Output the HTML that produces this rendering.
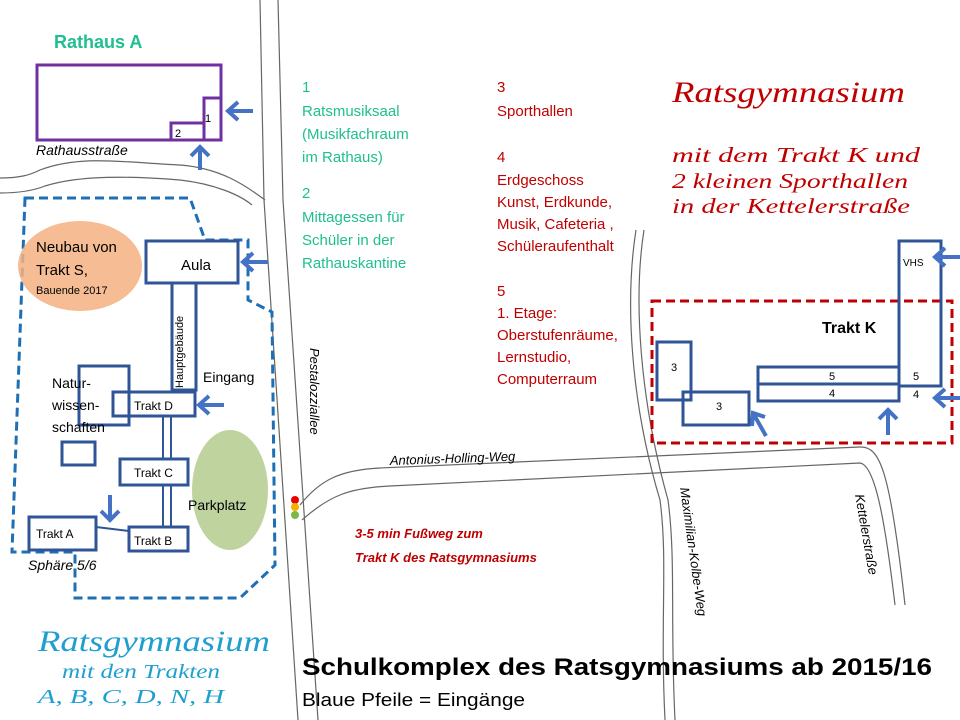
<!DOCTYPE html>
<html><head><meta charset="utf-8"><style>
html,body{margin:0;padding:0;background:#fff;}
svg{display:block;}
text{font-family:"Liberation Sans",sans-serif;}
</style></head><body>
<svg width="960" height="720" viewBox="0 0 960 720" xmlns="http://www.w3.org/2000/svg">
<g fill="none" stroke="#666" stroke-width="1.2">
<path d="M260,0 L264,200 L298,720"/>
<path d="M278,0 L283,200 L318,720"/>
<path d="M0,178 C20,178 30,175 40,170 C80,155 120,162 180,165 C220,168 245,185 265,200"/>
<path d="M0,193 C20,193 35,190 45,186 C80,175 130,176 180,180 C215,184 240,195 252,205"/>
<path d="M300,505 C320,480 340,470 380,468 L860,447 C880,446 890,470 905,605"/>
<path d="M302,520 C330,495 350,488 390,486 L860,463 C875,465 885,520 895,605"/>
<path d="M636,230 C625,300 630,400 660,500 C668,560 660,620 665,720"/>
<path d="M644,230 C633,300 640,400 668,500 C676,560 670,620 675,720"/>
</g>
<path d="M25,198 L190,198 L205,240 L248,240 L248,300 L272,312 L275,565 L240,598 L75,598 L75,552 L12,552 Z" fill="none" stroke="#1e6fb5" stroke-width="3" stroke-dasharray="9,5"/>
<ellipse cx="80" cy="266" rx="62" ry="45" fill="#f4b183" opacity="0.85"/>
<ellipse cx="230" cy="490" rx="38" ry="60" fill="#a9c47f" opacity="0.75"/>
<g fill="none" stroke="#7030a0" stroke-width="3">
<rect x="37" y="65" width="184" height="75"/>
<rect x="204" y="98" width="17" height="42"/>
<rect x="171" y="123" width="33" height="17"/>
</g>
<text x="54" y="48" font-size="18" font-weight="bold" fill="#1fbf8f">Rathaus A</text>
<text x="175" y="137" font-size="11">2</text>
<text x="205" y="122" font-size="11">1</text>
<text x="36" y="155" font-size="14" font-style="italic">Rathausstraße</text>
<g fill="none" stroke="#2f5597" stroke-width="3">
<rect x="146" y="241" width="92" height="42"/>
<rect x="172" y="283" width="24" height="107"/>
<rect x="79" y="366" width="50" height="59"/>
<rect x="113" y="392" width="82" height="24"/>
<rect x="62" y="442" width="33" height="23"/>
<rect x="120" y="459" width="68" height="26"/>
<rect x="29" y="517" width="67" height="33"/>
<rect x="129" y="527" width="59" height="24"/>
<line x1="163" y1="416" x2="163" y2="459" stroke-width="2"/>
<line x1="171" y1="416" x2="171" y2="459" stroke-width="2"/>
<line x1="163" y1="485" x2="163" y2="527" stroke-width="2"/>
<line x1="171" y1="485" x2="171" y2="527" stroke-width="2"/>
<line x1="96" y1="527" x2="129" y2="531" stroke-width="2"/>
</g>
<text x="181" y="270" font-size="15">Aula</text>
<text x="36" y="252" font-size="15">Neubau  von</text>
<text x="36" y="275" font-size="15">Trakt  S,</text>
<text x="36" y="294" font-size="11">Bauende 2017</text>
<text transform="translate(183,388) rotate(-90)" font-size="11">Hauptgebäude</text>
<text x="203" y="382" font-size="14">Eingang</text>
<text x="52" y="388" font-size="14">Natur-</text>
<text x="52" y="410" font-size="14">wissen-</text>
<text x="52" y="432" font-size="14">schaften</text>
<text x="134" y="410" font-size="12">Trakt D</text>
<text x="134" y="477" font-size="12">Trakt C</text>
<text x="36" y="538" font-size="12">Trakt A</text>
<text x="134" y="545" font-size="12">Trakt B</text>
<text x="188" y="510" font-size="14">Parkplatz</text>
<text x="28" y="570" font-size="14" font-style="italic">Sphäre 5/6</text>
<text transform="translate(310,348) rotate(90)" font-size="13" font-style="italic">Pestalozziallee</text>
<circle cx="295" cy="500" r="4" fill="#e00"/>
<circle cx="295" cy="507" r="4" fill="#f0b400"/>
<circle cx="295" cy="515" r="4" fill="#7cb84a"/>
<text x="390" y="465" font-size="13" font-style="italic" transform="rotate(-2 390 465)">Antonius-Holling-Weg</text>
<text transform="translate(680,488) rotate(82)" font-size="13" font-style="italic">Maximilian-Kolbe-Weg</text>
<text transform="translate(855,495) rotate(80)" font-size="13" font-style="italic">Kettelerstraße</text>
<g font-size="15" fill="#1fbf8f">
<text x="302" y="92">1</text>
<text x="302" y="116">Ratsmusiksaal</text>
<text x="302" y="139">(Musikfachraum</text>
<text x="302" y="162">im Rathaus)</text>
<text x="302" y="198">2</text>
<text x="302" y="222">Mittagessen für</text>
<text x="302" y="245">Schüler in  der</text>
<text x="302" y="268">Rathauskantine</text>
</g>
<g font-size="15" fill="#c00000">
<text x="497" y="92">3</text>
<text x="497" y="116">Sporthallen</text>
<text x="497" y="162">4</text>
<text x="497" y="185">Erdgeschoss</text>
<text x="497" y="207">Kunst,  Erdkunde,</text>
<text x="497" y="229">Musik, Cafeteria ,</text>
<text x="497" y="251">Schüleraufenthalt</text>
<text x="497" y="296">5</text>
<text x="497" y="318">1. Etage:</text>
<text x="497" y="340">Oberstufenräume,</text>
<text x="497" y="362">Lernstudio,</text>
<text x="497" y="384">Computerraum</text>
</g>
<g font-size="13" fill="#c00000" font-weight="bold" font-style="italic">
<text x="355" y="538">3-5 min Fußweg zum</text>
<text x="355" y="562">Trakt K des  Ratsgymnasiums</text>
</g>
<g font-style="italic" fill="#c00000">
<text x="672" y="102" font-size="30" textLength="233" lengthAdjust="spacingAndGlyphs" style="font-family:'Liberation Serif',serif">Ratsgymnasium</text>
<text x="672" y="162" font-size="21" textLength="248" lengthAdjust="spacingAndGlyphs" style="font-family:'Liberation Serif',serif">mit dem Trakt  K und</text>
<text x="672" y="188" font-size="21" textLength="236" lengthAdjust="spacingAndGlyphs" style="font-family:'Liberation Serif',serif">2 kleinen Sporthallen</text>
<text x="672" y="213" font-size="21" textLength="238" lengthAdjust="spacingAndGlyphs" style="font-family:'Liberation Serif',serif">in der Kettelerstraße</text>
</g>
<rect x="652" y="301" width="300" height="142" fill="none" stroke="#c00000" stroke-width="3" stroke-dasharray="9,5"/>
<g fill="none" stroke="#2f5597" stroke-width="3">
<rect x="899" y="241" width="42" height="145"/>
<rect x="657" y="342" width="34" height="58"/>
<rect x="683" y="392" width="66" height="33"/>
<rect x="758" y="367" width="141" height="17"/>
<rect x="758" y="384" width="141" height="17"/>
</g>
<text x="822" y="333" font-size="16" font-weight="bold">Trakt K</text>
<text x="903" y="266" font-size="10">VHS</text>
<g font-size="11">
<text x="671" y="371">3</text><text x="716" y="410">3</text>
<text x="829" y="380">5</text><text x="829" y="397">4</text>
<text x="913" y="380">5</text><text x="913" y="398">4</text>
</g>
<g stroke="#4472c4" stroke-width="4" fill="none">
<path d="M253,111 L228,111 M238,102 L228,111 L238,120"/>
<path d="M200,170 L200,147 M191,156 L200,147 L209,156"/>
<path d="M268,262 L243,262 M253,253 L243,262 L253,271"/>
<path d="M224,405 L199,405 M209,396 L199,405 L209,414"/>
<path d="M110,495 L110,520 M101,511 L110,520 L119,511"/>
<path d="M960,257 L935,257 M945,248 L935,257 L945,266"/>
<path d="M960,398 L935,398 M945,389 L935,398 L945,407"/>
<path d="M888,435 L888,410 M879,419 L888,410 L897,419"/>
<path d="M766,436 L753,413 M752,426 L753,413 L765,417"/>
</g>
<text x="38" y="651" font-size="30" font-style="italic" fill="#1e9fd0" textLength="232" lengthAdjust="spacingAndGlyphs" style="font-family:'Liberation Serif',serif">Ratsgymnasium</text>
<text x="62" y="678" font-size="20" font-style="italic" fill="#1e9fd0" textLength="158" lengthAdjust="spacingAndGlyphs" style="font-family:'Liberation Serif',serif">mit den Trakten</text>
<text x="38" y="703" font-size="20" font-style="italic" fill="#1e9fd0" textLength="186" lengthAdjust="spacingAndGlyphs" style="font-family:'Liberation Serif',serif">A, B, C, D, N, H</text>
<text x="302" y="675" font-size="24" font-weight="bold" textLength="630" lengthAdjust="spacingAndGlyphs">Schulkomplex  des Ratsgymnasiums ab 2015/16</text>
<text x="302" y="706" font-size="18" textLength="223" lengthAdjust="spacingAndGlyphs">Blaue Pfeile = Eingänge</text>
</svg>
</body></html>
